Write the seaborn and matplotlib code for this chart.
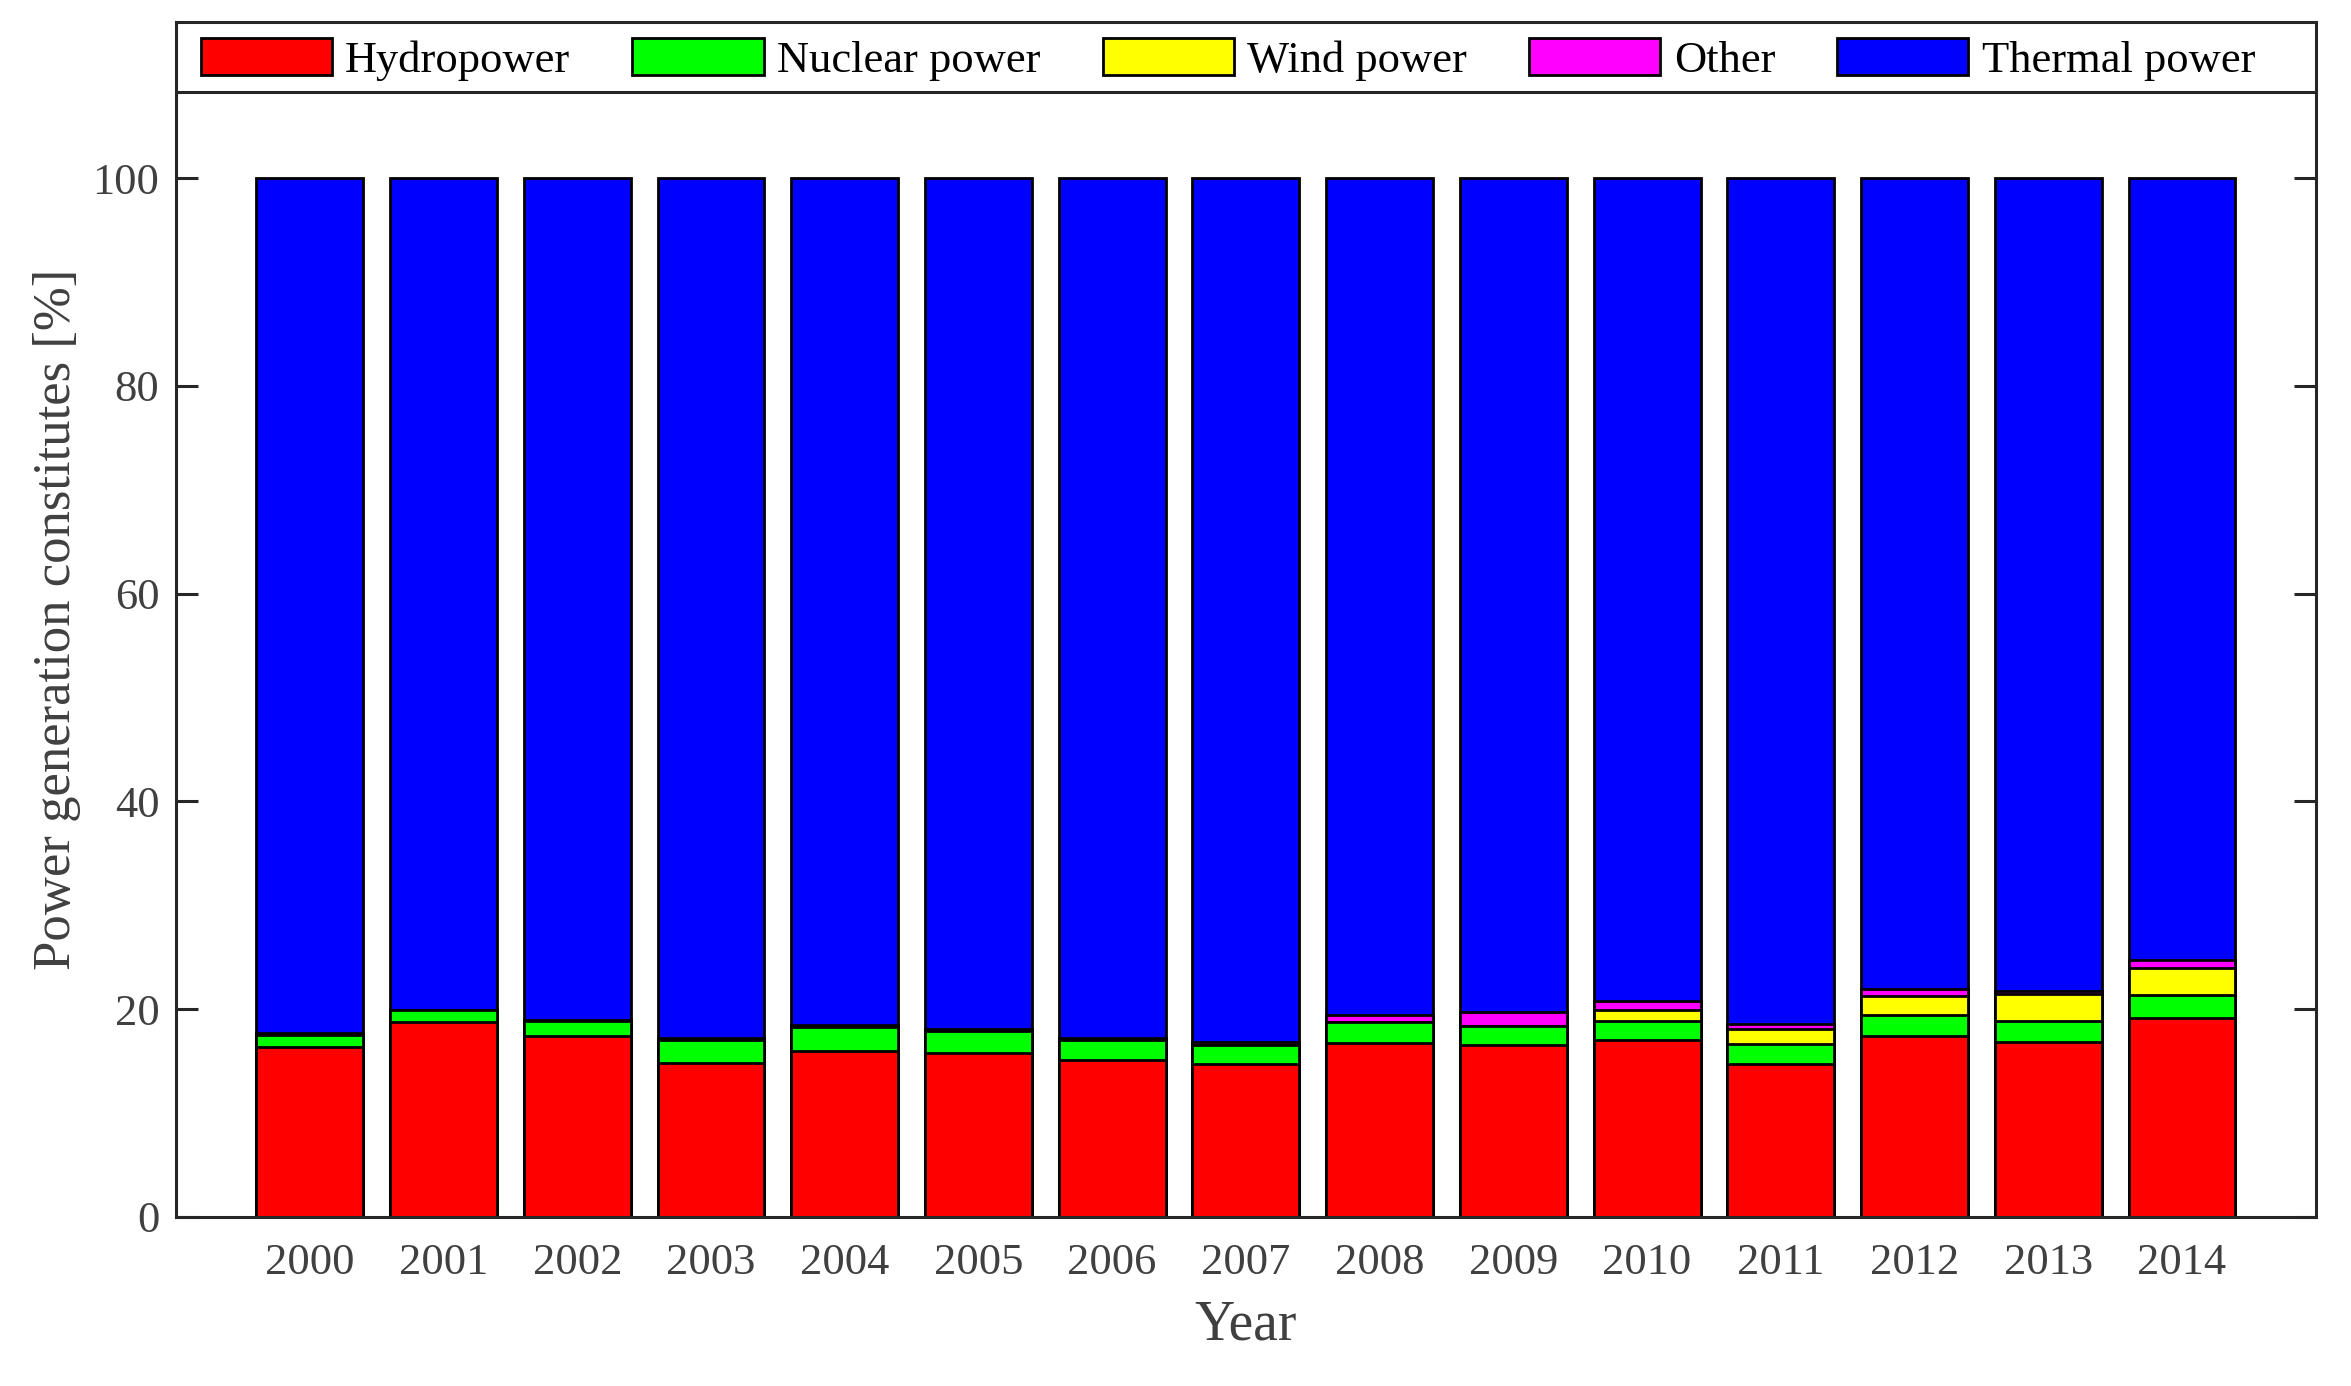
import matplotlib
matplotlib.use("Agg")
import matplotlib.pyplot as plt
import seaborn as sns
import numpy as np
import pandas as pd

years = ["2000", "2001", "2002", "2003", "2004", "2005", "2006", "2007",
         "2008", "2009", "2010", "2011", "2012", "2013", "2014"]
hydro = [16.4, 18.8, 17.4, 14.8, 16.0, 15.8, 15.1, 14.7, 16.7, 16.5, 17.05, 14.7, 17.4, 16.85, 19.1]
nuclear = [1.1, 1.1, 1.5, 2.2, 2.3, 2.1, 1.95, 1.8, 2.1, 1.9, 1.85, 1.9, 2.0, 2.05, 2.25]
wind = [0, 0, 0, 0, 0, 0, 0, 0, 0, 0, 1.0, 1.5, 1.9, 2.6, 2.65]
other = [0.25, 0.05, 0.1, 0.2, 0.2, 0.2, 0.2, 0.3, 0.65, 1.3, 0.9, 0.5, 0.6, 0.25, 0.75]
thermal = [100 - h - n - w - o for h, n, w, o in zip(hydro, nuclear, wind, other)]

series_names = ["Hydropower", "Nuclear power", "Wind power", "Other", "Thermal power"]
series_colors = ["#ff0000", "#00ff00", "#ffff00", "#ff00ff", "#0000ff"]
series_values = [hydro, nuclear, wind, other, thermal]

sns.set_style("ticks")
plt.rcParams["font.family"] = ["Liberation Serif", "DejaVu Serif"]
plt.rcParams["axes.edgecolor"] = "#262626"

fig = plt.figure(figsize=(23.51, 13.86), dpi=100)
ax = fig.add_axes([0.0749, 0.122, 0.9101, 0.862])

cum = np.cumsum(np.array(series_values), axis=0)
df = pd.DataFrame({"Year": years})
# draw tallest cumulative first so that lower layers sit on top
for i in range(len(series_names) - 1, -1, -1):
    df["val"] = cum[i]
    sns.barplot(data=df, x="Year", y="val", color=series_colors[i], saturation=1,
                edgecolor="black", linewidth=2, width=0.8, errorbar=None,
                label=series_names[i], ax=ax)

ax.set_xlim(-1, 15)
ax.set_ylim(0, 115)
ax.set_yticks([0, 20, 40, 60, 80, 100])
ax.set_xlabel("Year", fontsize=40, color="#404040", labelpad=12)
ax.set_ylabel("Power generation constitutes [%]", fontsize=38, color="#404040", labelpad=8)

ax.tick_params(axis="x", length=0, pad=19, labelsize=32, labelcolor="#404040")
ax.tick_params(axis="y", direction="in", length=16, width=2.2, pad=12,
               labelsize=32, labelcolor="#404040", right=True, color="#262626")
for sp in ax.spines.values():
    sp.set_linewidth(2.2)
    sp.set_color("#262626")

# bottom border of the legend box (legend spans the full axes width)
ax.axhline(108.3, color="#262626", linewidth=2.2)

handles, labels = ax.get_legend_handles_labels()
order = [labels.index(n) for n in series_names]
leg = ax.legend([handles[k] for k in order], [labels[k] for k in order],
                loc="center", bbox_to_anchor=(0.4916, 0.969),
                ncol=5, borderaxespad=0, fontsize=32, handlelength=2.95,
                handleheight=0.93, handletextpad=0.3, columnspacing=1.4,
                borderpad=0.2, frameon=False)
for t in leg.get_texts():
    t.set_color("black")

fig.savefig("out.png", dpi=100, facecolor="white")
